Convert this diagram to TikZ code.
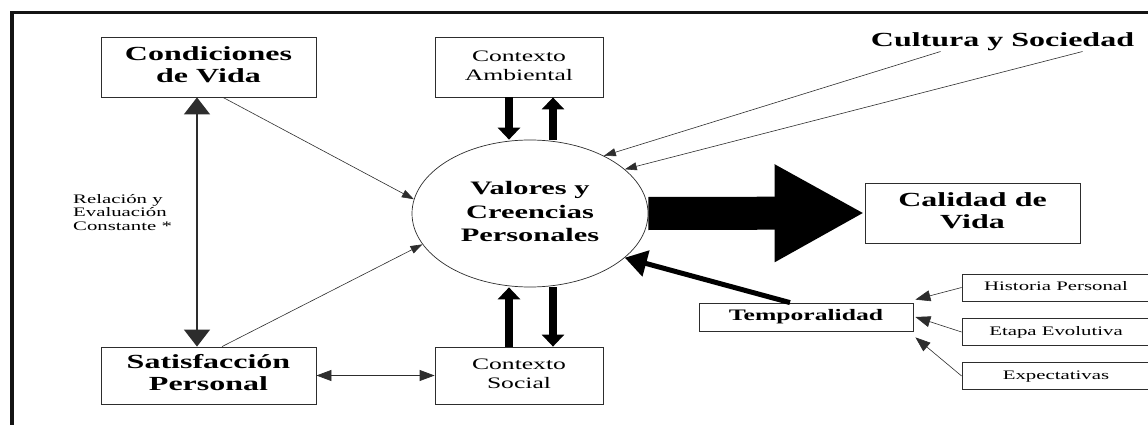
\documentclass[tikz,border=0pt]{standalone}
\usepackage{fontspec}
\setmainfont{Liberation Serif}
\usetikzlibrary{arrows.meta,shapes.geometric,calc}
\definecolor{framegray}{RGB}{20,20,20}
\definecolor{linegray}{RGB}{45,45,45}
% stretched text, as in the printed figure
\newcommand{\widetxt}[1]{\scalebox{1.6}[1]{\begin{tabular}{@{}c@{}}#1\end{tabular}}}
\newcommand{\widetxtl}[1]{\scalebox{1.6}[1]{\begin{tabular}{@{}l@{}}#1\end{tabular}}}
\tikzset{
  bigbox/.style={draw=linegray, line width=0.8pt, minimum width=215pt, minimum height=60pt, inner sep=0pt, font=\fontsize{20}{22}\selectfont\bfseries},
  ctxbox/.style={draw=linegray, line width=0.8pt, minimum width=168pt, minimum height=60pt, inner sep=0pt, font=\fontsize{16}{19}\selectfont},
  subbox/.style={draw=linegray, line width=0.8pt, minimum width=188pt, minimum height=27pt, inner sep=0pt, font=\fontsize{13}{15}\selectfont},
  thinarrow/.style={linegray, line width=0.6pt, -{Triangle[length=12pt,width=8pt]}},
  subarrow/.style={linegray, line width=0.6pt, -{Triangle[length=15pt,width=11pt]}},
  fatarrow/.style={black, line width=8pt, -{Triangle[length=12pt,width=22pt]}}
}

\begin{document}
\begin{tikzpicture}[x=1pt,y=-1pt]
    \useasboundingbox (0,0) rectangle (1148,425);
    \clip (0,0) rectangle (1148,425);

    % Frame
    \draw[framegray, line width=3.5pt] (12,430) -- (12,12.5) -- (1150,12.5);

    % Outer boxes
    \node[bigbox] (cond) at (208.5,67) {\widetxt{Condiciones\\de Vida}};
    \node[bigbox, minimum height=57pt] (sat) at (208.5,375.5) {\widetxt{Satisfacción\\Personal}};
    \node[ctxbox] (amb) at (519,67) {\widetxt{Contexto\\Ambiental}};
    \node[ctxbox, minimum height=57pt] (soc) at (519,375.5) {\widetxt{Contexto\\Social}};
    \node[bigbox] (cal) at (972.5,213) {\widetxt{Calidad de\\Vida}};

    % Values and beliefs
    \node[ellipse, draw=linegray, line width=0.7pt, fill=white, minimum width=236pt, minimum height=147pt, inner sep=0pt, font=\fontsize{19}{23.5}\selectfont\bfseries] (val) at (530,213.5) {\widetxt{Valores y\\Creencias\\Personales}};

    % Temporality and its parts
    \node[draw=linegray, line width=0.8pt, minimum width=214pt, minimum height=28pt, inner sep=0pt, font=\fontsize{16}{18}\selectfont\bfseries] (temp) at (806,317) {\widetxt{Temporalidad}};
    \node[subbox] (hist) at (1056,287.5) {\widetxt{Historia Personal}};
    \node[subbox] (etapa) at (1056,332) {\widetxt{Etapa Evolutiva}};
    \node[subbox] (expe) at (1056,376) {\widetxt{Expectativas}};

    % Free labels
    \node[font=\fontsize{20}{22}\selectfont\bfseries, anchor=base, inner sep=0pt] (cult) at (1002.5,47) {\scalebox{1.6}[1]{Cultura y Sociedad}};
    \node[font=\fontsize{13}{13.5}\selectfont, anchor=west, inner sep=0pt] (rel) at (73,214) {\widetxtl{Relación y\\Evaluación\\Constante *}};

    % Life conditions and satisfaction
    \draw[linegray, line width=1.3pt, {Triangle[length=17pt,width=26pt]}-{Triangle[length=17pt,width=26pt]}] ($(cond.south)+(-11.5,0)$) -- ($(sat.north)+(-11.5,0)$);
    \draw[thinarrow] ($(cond.south)+(14.5,0)$) -- (val.173.5);
    \draw[thinarrow] ($(sat.north)+(13.5,0)$) -- (val.196);
    \draw[linegray, line width=0.8pt, {Triangle[length=15pt,width=11pt]}-{Triangle[length=15pt,width=11pt]}] (sat.east) -- (soc.west);

    % Context exchange
    \draw[fatarrow] ($(amb.south -| val.north)+(-21,0)$) -- ($(val.north)+(-21,0)$);
    \draw[fatarrow] ($(val.north)+(23,0)$) -- ($(amb.south -| val.north)+(23,0)$);
    \draw[fatarrow] ($(soc.north -| val.south)+(-21,0)$) -- ($(val.south)+(-21,0)$);
    \draw[fatarrow] ($(val.south)+(23,0)$) -- ($(soc.north -| val.south)+(23,0)$);

    % Culture and society
    \draw[thinarrow] ($(cult.south)+(-62,0)$) -- (val.38);
    \draw[thinarrow] ($(cult.south)+(80,0)$) -- (val.25);

    % Quality of life
    \draw[line width=33pt, -{Triangle[length=90pt,width=91pt]}] (val.east) -- (cal.west);

    % Temporality inputs
    \draw[line width=5pt, -{Triangle[length=22pt,width=26pt]}] ($(temp.north)+(-16,0)$) -- (val.335);
    \draw[subarrow] (hist.west) -- ($(temp.north east)+(2,-3)$);
    \draw[subarrow] (etapa.west) -- ($(temp.east)+(2,0)$);
    \draw[subarrow] (expe.west) -- ($(temp.south east)+(2,6)$);
\end{tikzpicture}
\end{document}
